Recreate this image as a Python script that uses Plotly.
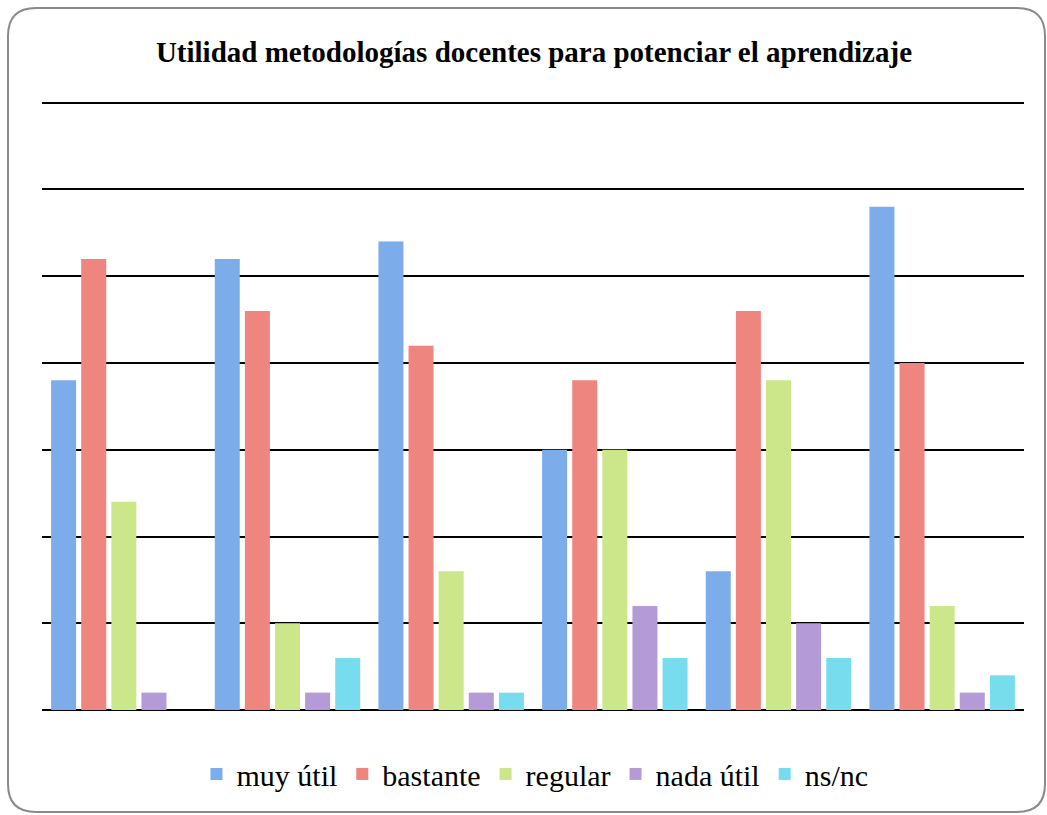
import plotly.graph_objects as go

# datos (escala 0-35, lineas cada 5)
grupos = ['1', '2', '3', '4', '5', '6']
muy_util = [19, 26, 27, 15, 8, 29]
bastante = [26, 23, 21, 19, 23, 20]
regular = [12, 5, 8, 15, 19, 6]
nada_util = [1, 1, 1, 6, 5, 1]
ns_nc = [0, 3, 1, 3, 3, 2]

series = [
    ('muy útil', muy_util, '#7DACEB'),
    ('bastante', bastante, '#EE857F'),
    ('regular', regular, '#CCE68A'),
    ('nada útil', nada_util, '#B49BD8'),
    ('ns/nc', ns_nc, '#78DCEF'),
]

fig = go.Figure()
for nombre, valores, color in series:
    fig.add_trace(go.Bar(
        x=grupos,
        y=valores,
        name=nombre,
        marker_color=color,
        marker_line_width=0
    ))

W, H = 1047, 815
pl, pr, pt, pb = 42, 23, 101, 105
serif = 'Times New Roman, Liberation Serif, serif'

fig.update_layout(
    width=W,
    height=H,
    font=dict(family=serif, color='black'),
    title=dict(
        text='<b>Utilidad metodologías docentes para potenciar el aprendizaje</b>',
        x=0.51, xanchor='center', y=0.936, yanchor='middle',
        font=dict(family=serif, size=29, color='black')
    ),
    barmode='group',
    bargap=0.08,
    bargroupgap=0.17,
    plot_bgcolor='white',
    paper_bgcolor='white',
    margin=dict(l=pl, r=pr, t=pt, b=pb, autoexpand=False),
    showlegend=True,
    legend=dict(
        orientation='h', x=0.502, xanchor='center', y=-0.105, yanchor='middle',
        font=dict(family=serif, size=30, color='black'),
        itemwidth=30, traceorder='normal'
    ),
    xaxis=dict(showticklabels=False, showgrid=False, ticks='', showline=False),
    yaxis=dict(
        range=[0, 35.1], dtick=5, showticklabels=False,
        showgrid=True, gridcolor='black', gridwidth=2,
        zeroline=True, zerolinecolor='black', zerolinewidth=2
    ),
)

# borde redondeado: pixeles convertidos a coordenadas de papel
pw, ph = W - pl - pr, H - pt - pb


def px(x):
    return (x - pl) / pw


def py(y):
    return (H - pb - y) / ph


x0, x1, y0, y1, r = 8, 1045, 8, 812, 28
path = (f'M {px(x0 + r)},{py(y0)} L {px(x1 - r)},{py(y0)} '
        f'Q {px(x1)},{py(y0)} {px(x1)},{py(y0 + r)} '
        f'L {px(x1)},{py(y1 - r)} Q {px(x1)},{py(y1)} {px(x1 - r)},{py(y1)} '
        f'L {px(x0 + r)},{py(y1)} Q {px(x0)},{py(y1)} {px(x0)},{py(y1 - r)} '
        f'L {px(x0)},{py(y0 + r)} Q {px(x0)},{py(y0)} {px(x0 + r)},{py(y0)} Z')
fig.add_shape(type='path', xref='paper', yref='paper', path=path,
              line=dict(color='#8a8a8a', width=2), layer='below')

# quitar el margen del body para que la figura empiece en 0,0
fig.write_html('out.html', config={'displayModeBar': False},
               post_script="document.body.style.margin='0';")
